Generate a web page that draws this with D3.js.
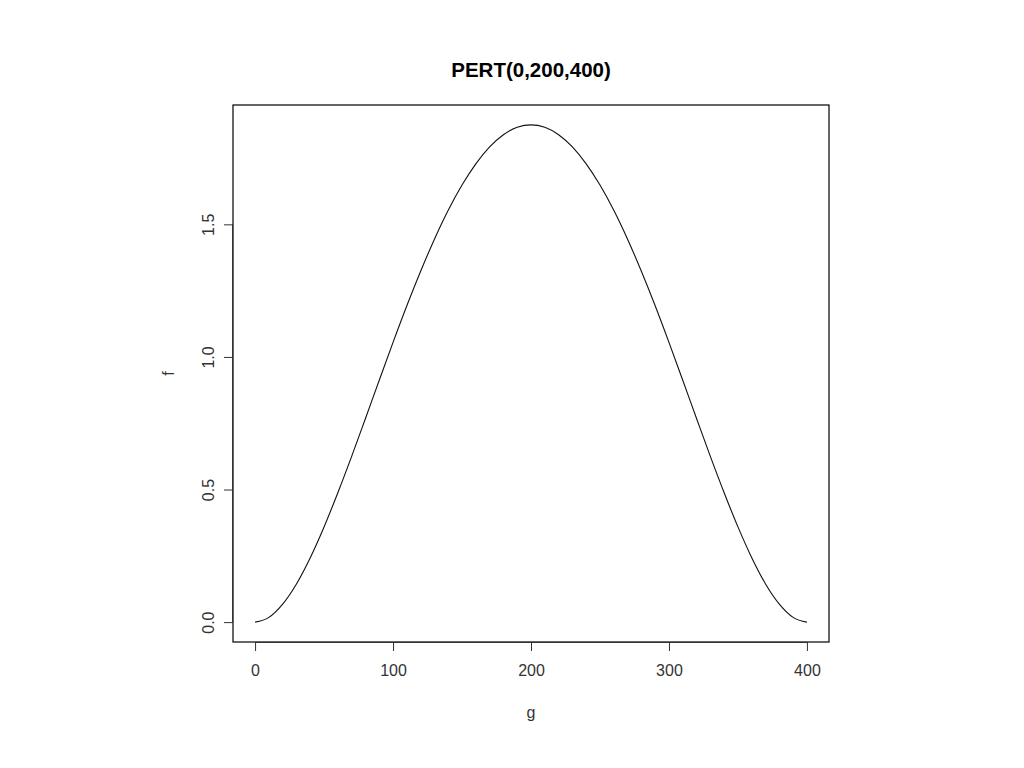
<!DOCTYPE html>
<html><head><meta charset="utf-8">
<script src="https://cdn.jsdelivr.net/npm/d3@7"></script>
<style>body{margin:0;background:#fff}svg{display:block}text{font-family:"Liberation Sans",Arial,sans-serif}</style>
</head><body>
<svg id="c" width="1024" height="768"></svg>
<script>
// data (g, f)
const gValues = [0,10,20,30,40,50,60,70,80,90,100,110,120,130,140,150,160,170,180,190,200,210,220,230,240,250,260,270,280,290,300,310,320,330,340,350,360,370,380,390,400];
const fValues = [0,0.018,0.068,0.144,0.243,0.359,0.488,0.625,0.768,0.912,1.055,1.193,1.323,1.444,1.553,1.648,1.728,1.792,1.838,1.866,1.875,1.866,1.838,1.792,1.728,1.648,1.553,1.444,1.323,1.193,1.055,0.912,0.768,0.625,0.488,0.359,0.243,0.144,0.068,0.018,0];
const xTicks = [0,100,200,300,400];
const yTicks = [0,0.5,1.0,1.5];
const yTickLabels = ["0.0","0.5","1.0","1.5"];
const title = "PERT(0,200,400)";

const svg = d3.select("#c");
const L = 233, R = 829, T = 105, B = 642;
const x = d3.scaleLinear().domain([-16,416]).range([L,R]);
const y = d3.scaleLinear().domain([-0.075,1.95]).range([B,T]);

svg.append("rect").attr("x",L).attr("y",T).attr("width",R-L).attr("height",B-T)
  .attr("fill","none").attr("stroke","#000").attr("stroke-width",1.2);

const xAxis = svg.append("g").attr("transform",`translate(0,${B})`)
  .call(d3.axisBottom(x).tickValues(xTicks).tickSize(9).tickPadding(14).tickFormat(d3.format("d")));
xAxis.select(".domain").attr("d",`M${x(0)},0.5H${x(400)}`);
const yAxis = svg.append("g").attr("transform",`translate(${L},0)`)
  .call(d3.axisLeft(y).tickValues(yTicks).tickSize(9).tickFormat((d,i)=>yTickLabels[i]));
yAxis.select(".domain").attr("d",`M-0.5,${y(0)}V${y(1.5)}`);
[xAxis,yAxis].forEach(a=>{
  a.selectAll("line,path").attr("stroke","#333");
  a.selectAll("text").attr("font-size",16).attr("fill","#333").attr("font-family","Liberation Sans, Arial, sans-serif");
});
yAxis.selectAll(".tick text").attr("x",null).attr("dy",null)
  .attr("text-anchor","middle")
  .attr("transform","translate(-19,0) rotate(-90)");

const line = d3.line().x((d,i)=>x(gValues[i])).y(d=>y(d)).curve(d3.curveMonotoneX);
svg.append("path").datum(fValues).attr("d",line).attr("fill","none").attr("stroke","#111").attr("stroke-width",1.1);

svg.append("text").attr("x",(L+R)/2).attr("y",77).attr("text-anchor","middle")
  .attr("font-weight","bold").attr("font-size",20.5).text(title);
svg.append("text").attr("x",(L+R)/2).attr("y",718).attr("text-anchor","middle")
  .attr("font-size",16).attr("fill","#333").text("g");
svg.append("text").attr("transform",`translate(174,${(T+B)/2}) rotate(-90)`).attr("text-anchor","middle")
  .attr("font-size",16).attr("fill","#333").text("f");
</script>
</body></html>
